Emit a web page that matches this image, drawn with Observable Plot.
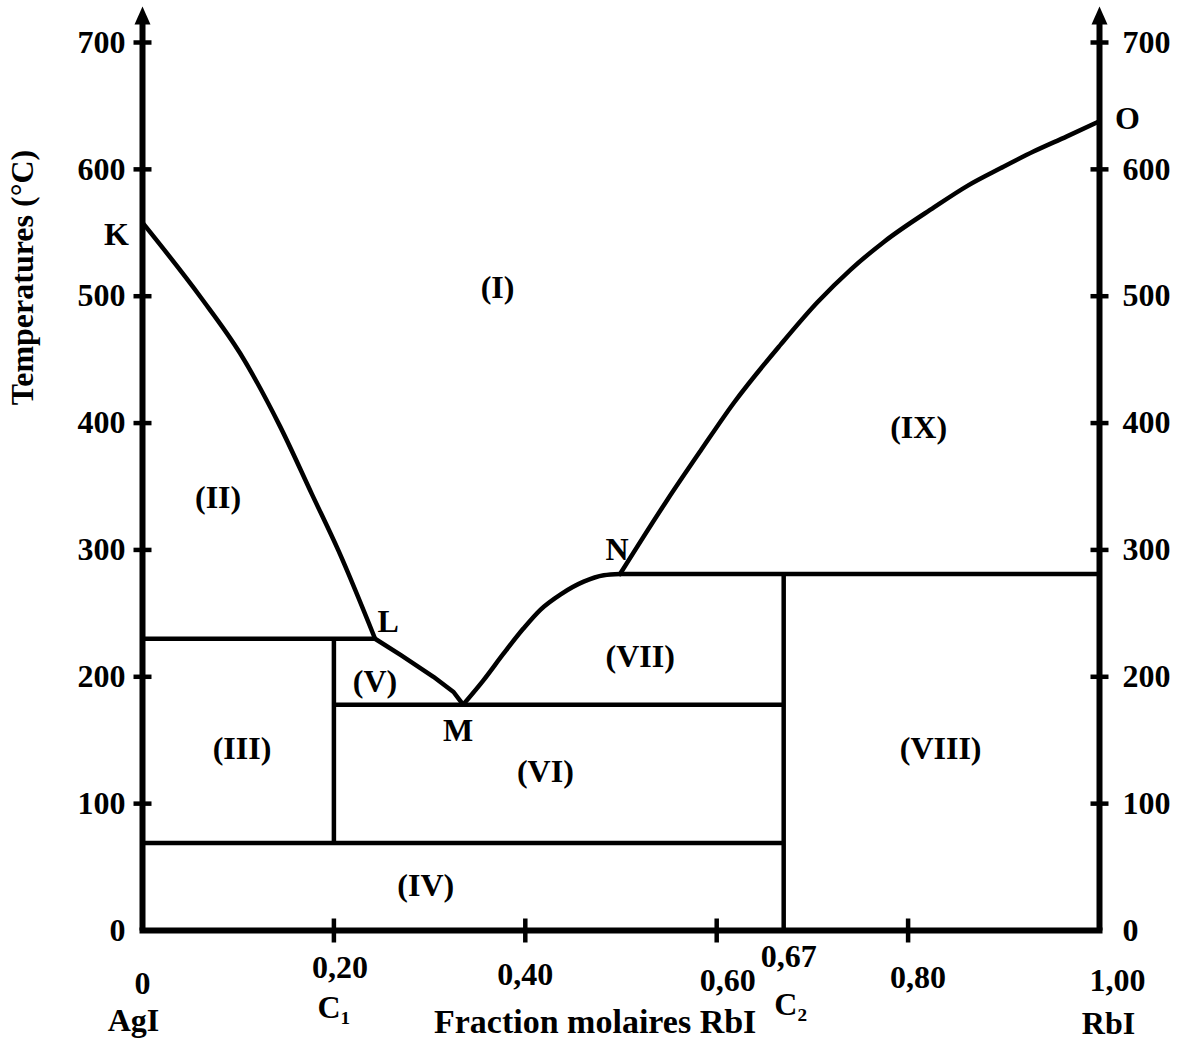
<!DOCTYPE html>
<html><head><meta charset="utf-8">
<script src="https://cdn.jsdelivr.net/npm/d3@7"></script>
<script src="https://cdn.jsdelivr.net/npm/@observablehq/plot@0.6"></script>
<style>html,body{margin:0;padding:0;background:#fff} svg{display:block}</style>
</head><body><div id="chart"></div>
<script>
// ---------- data ----------
const yTicks = [0, 100, 200, 300, 400, 500, 600, 700];
const yTickLabels = ["0", "100", "200", "300", "400", "500", "600", "700"];
const xTickMarks = [0.2, 0.4, 0.6, 0.8];
const xLabels = ["0", "0,20", "0,40", "0,60", "0,67", "0,80", "1,00"];
const xLabelValues = [0, 0.2, 0.4, 0.6, 0.67, 0.8, 1.0];
const compLabels = ["AgI", "C\u2081", "Fraction molaires RbI", "C\u2082", "RbI"];
const compValues = [0, 0.2, 0.473, 0.67, 1.0];
const yTitle = "Temperatures (\u00B0C)";
const axisTop = 715;

// curves (fraction RbI, temperature °C)
const curveKL_x = [0, 0.061, 0.102, 0.144, 0.177, 0.205, 0.243];
const curveKL_t = [558, 499, 455, 397, 344, 299, 230];
const curveLM_x = [0.243, 0.270, 0.304, 0.325, 0.335];
const curveLM_t = [230, 217, 200, 188, 178];
const curveMN_x = [0.335, 0.356, 0.377, 0.398, 0.416, 0.437, 0.461, 0.482, 0.499];
const curveMN_t = [178, 197, 218, 238, 253, 265, 275, 280, 281];
const curveNO_x = [0.499, 0.548, 0.583, 0.618, 0.667, 0.705, 0.740, 0.775, 0.827, 0.862, 0.897, 0.931, 0.966, 1.0];
const curveNO_t = [281, 339, 378, 416, 462, 495, 521, 543, 570, 587, 601, 614, 626, 638];

// horizontal invariant lines
const hLineX1 = [0, 0.2, 0, 0.499];
const hLineX2 = [0.243, 0.67, 0.67, 1.0];
const hLineT = [230, 178, 69, 281];
// vertical lines
const vLineX = [0.2, 0.67];
const vLineT1 = [69, 0];
const vLineT2 = [230, 281];

// named points
const pointNames = ["K", "L", "M", "N", "O"];
const pointX = [0, 0.243, 0.335, 0.499, 1.0];
const pointT = [558, 230, 178, 281, 638];

// regions
const regionNames = ["(I)", "(II)", "(III)", "(IV)", "(V)", "(VI)", "(VII)", "(VIII)", "(IX)"];
const regionX = [0.371, 0.079, 0.104, 0.296, 0.243, 0.421, 0.520, 0.834, 0.811];
const regionT = [507, 341, 143, 35, 196, 125, 216, 143, 396];

// ---------- build ----------
const zip = (xs, ts) => xs.map((x, i) => ({x, t: ts[i]}));
const FONT = "Liberation Serif, Times New Roman, serif";
const fs = 32;
const txt = {fontFamily: FONT, fontWeight: "bold", fontSize: fs, fill: "black"};

const hTick = {draw(ctx) { ctx.moveTo(-9, 0); ctx.lineTo(9, 0); }};
const vTick = {draw(ctx) { ctx.moveTo(0, -12); ctx.lineTo(0, 12); }};
const arrowHead = {draw(ctx) { ctx.moveTo(0, -17); ctx.lineTo(8, 1); ctx.lineTo(-8, 1); ctx.closePath(); }};

const lineStyle = {x: "x", y: "t", stroke: "black", strokeWidth: 4.5};

const marks = [];
// phase boundary curves
marks.push(Plot.line(zip(curveKL_x, curveKL_t), {...lineStyle, curve: "monotone-x"}));
marks.push(Plot.line(zip(curveLM_x, curveLM_t), {...lineStyle, curve: "linear"}));
marks.push(Plot.line(zip(curveMN_x, curveMN_t), {...lineStyle, curve: "monotone-x"}));
marks.push(Plot.line(zip(curveNO_x, curveNO_t), {...lineStyle, curve: "monotone-x"}));
// horizontal lines
marks.push(Plot.link(hLineT.map((t, i) => ({x1: hLineX1[i], x2: hLineX2[i], t})),
  {x1: "x1", x2: "x2", y1: "t", y2: "t", stroke: "black", strokeWidth: 4.5}));
// vertical lines
marks.push(Plot.link(vLineX.map((x, i) => ({x, t1: vLineT1[i], t2: vLineT2[i]})),
  {x1: "x", x2: "x", y1: "t1", y2: "t2", stroke: "black", strokeWidth: 4.5}));

// axes
marks.push(Plot.link([0, 1], {x1: d => d, x2: d => d, y1: () => 0, y2: () => axisTop, stroke: "black", strokeWidth: 6}));
marks.push(Plot.link([0], {x1: () => 0, x2: () => 1, y1: () => 0, y2: () => 0, stroke: "black", strokeWidth: 6, strokeLinecap: "square"}));
marks.push(Plot.dot([0, 1], {x: d => d, y: () => axisTop, symbol: arrowHead, fill: "black", stroke: "none"}));
// y ticks both axes
const yT = yTicks.filter(t => t > 0);
for (const side of [0, 1]) {
  marks.push(Plot.dot(yT, {x: () => side, y: d => d, symbol: hTick, fill: "none", stroke: "black", strokeWidth: 4.5}));
}
marks.push(Plot.dot(xTickMarks, {x: d => d, y: () => 0, symbol: vTick, fill: "none", stroke: "black", strokeWidth: 4.5}));

// y tick labels
marks.push(Plot.text(yTicks, {x: () => 0, y: d => d, text: (d, i) => yTickLabels[i], textAnchor: "end", dx: -17, ...txt}));
marks.push(Plot.text(yTicks, {x: () => 1, y: d => d, text: (d, i) => yTickLabels[i], textAnchor: "start", dx: 23, ...txt}));

// x tick labels (individual offsets as in the reference)
const xLabDx = [0, 6, 0, 11, 5, 10, 18];
const xLabDy = [53, 37, 44, 50, 26, 47, 50];
xLabels.forEach((lab, i) => {
  marks.push(Plot.text([xLabelValues[i]], {x: d => d, y: () => 0, text: () => lab, dx: xLabDx[i], dy: xLabDy[i], ...txt}));
});
const compDx = [-9, 0, 0, 7, 9];
const compDy = [90, 77, 92, 74, 93];
const compFs = [32, 32, 34, 32, 32];
compLabels.forEach((lab, i) => {
  marks.push(Plot.text([compValues[i]], {x: d => d, y: () => 0, text: () => lab, dx: compDx[i], dy: compDy[i], ...txt, fontSize: compFs[i]}));
});

// point labels
const ptDx = [-26, 13, -5, -3, 28];
const ptDy = [12, -17, 26, -24, -2];
pointNames.forEach((n, i) => {
  marks.push(Plot.text([i], {x: () => pointX[i], y: () => pointT[i], text: () => n, dx: ptDx[i], dy: ptDy[i], ...txt}));
});

// region labels
marks.push(Plot.text(regionNames.map((n, i) => ({n, x: regionX[i], t: regionT[i]})), {x: "x", y: "t", text: "n", ...txt}));

// y title
marks.push(Plot.text([yTitle], {frameAnchor: "left", textAnchor: "middle", rotate: -90, dx: -120, dy: -209, ...txt, fontSize: 32}));

const chart = Plot.plot({
  width: 1189, height: 1040,
  marginLeft: 142, marginRight: 90, marginTop: 42, marginBottom: 110,
  x: {domain: [0, 1], axis: null},
  y: {domain: [0, 700], axis: null},
  style: {background: "white", fontFamily: FONT, overflow: "visible"},
  marks
});
document.getElementById("chart").appendChild(chart);
</script>
</body></html>
